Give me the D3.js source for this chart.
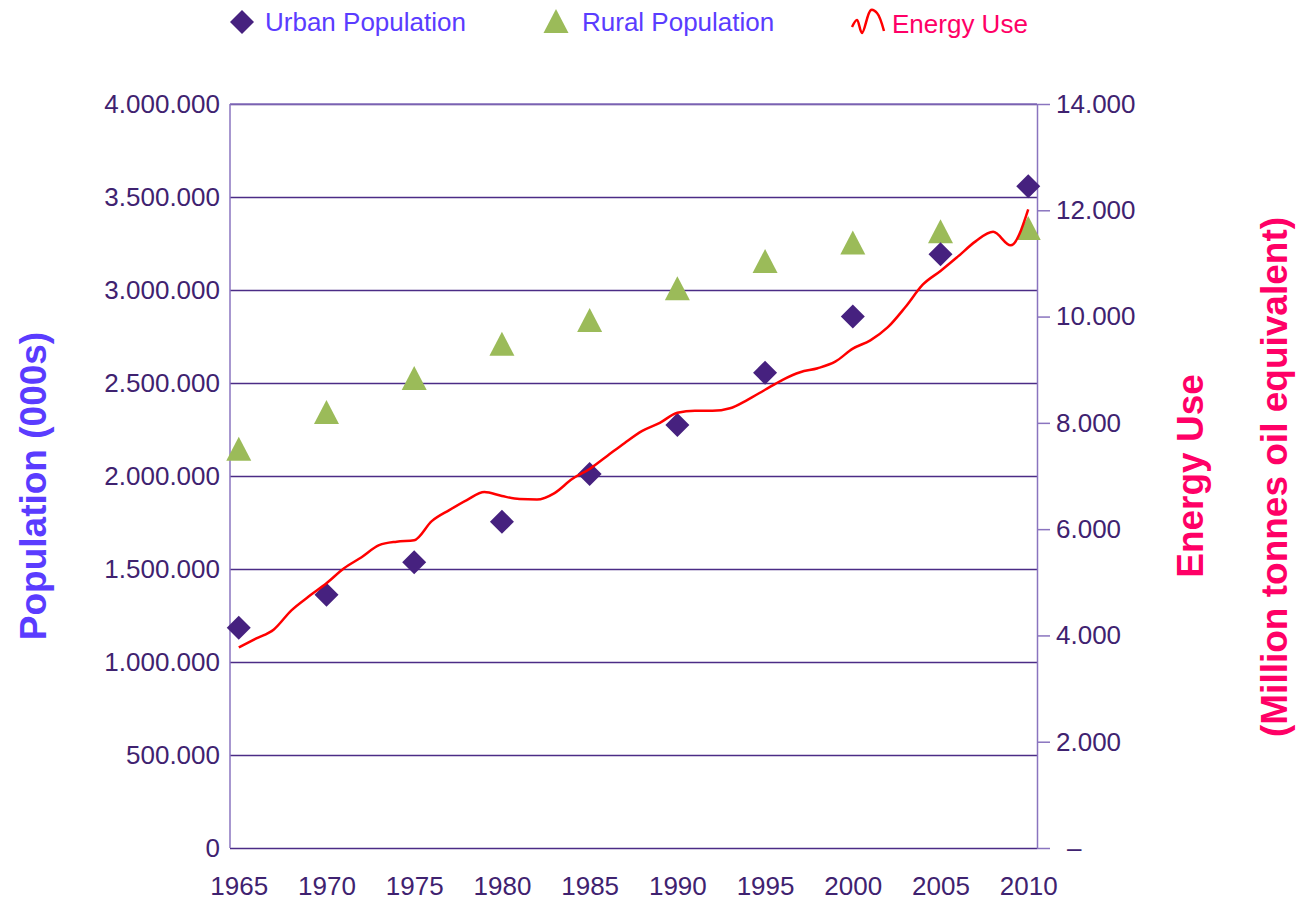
<!DOCTYPE html>
<html>
<head>
<meta charset="utf-8">
<script src="https://cdn.jsdelivr.net/npm/d3@7"></script>
<style>
  body { margin: 0; background: #fff; }
  text { font-family: "Liberation Sans", Arial, sans-serif; }
</style>
</head>
<body>
<div id="container"></div>
<script>
// marker series, every 5 years (thousands)
const markerYears = [1965, 1970, 1975, 1980, 1985, 1990, 1995, 2000, 2005, 2010];
const urbanPop = [1184000, 1362000, 1536000, 1754000, 2011000, 2274000, 2555000, 2857000, 3192000, 3558000];
const ruralPop = [2147000, 2344000, 2527000, 2711000, 2839000, 3010000, 3156000, 3255000, 3316000, 3333000];

// energy use, yearly 1965-2010 (million tonnes oil equivalent)
const energyYears = d3.range(1965, 2011);
const energyUse = [3774, 3943, 4113, 4472, 4736, 4981, 5264, 5472, 5698, 5764,
  5790, 6150, 6358, 6547, 6698, 6623, 6566, 6557, 6679, 6943,
  7132, 7377, 7623, 7849, 8000, 8189, 8226, 8226, 8274, 8434,
  8623, 8811, 8953, 9028, 9151, 9396, 9553, 9800, 10180, 10604,
  10858, 11132, 11415, 11594, 11340, 12019];

const leftTicks = d3.range(0, 4000001, 500000);
const rightTicks = d3.range(0, 14001, 2000);
const yearTicks = [1965, 1970, 1975, 1980, 1985, 1990, 1995, 2000, 2005, 2010];

const W = 1297, H = 903;
const plot = { left: 230, right: 1037, top: 104, bottom: 848 };

const tickColor = '#3f2270';
const gridColor = '#4b2c86';
const frameColor = '#8a74bf';
const blueText = '#5a3cff';
const pinkText = '#ff0066';

const loc = d3.formatLocale({ decimal: ',', thousands: '.', grouping: [3], currency: ['', ''] });
const fmt = loc.format(',');

const svg = d3.select('#container')
  .append('svg')
  .attr('width', W)
  .attr('height', H);

const x = d3.scaleLinear().domain([1964.5, 2010.5]).range([plot.left, plot.right]);
const yL = d3.scaleLinear().domain([0, 4000000]).range([plot.bottom, plot.top]);
const yR = d3.scaleLinear().domain([0, 14000]).range([plot.bottom, plot.top]);

// gridlines + left labels
const leftAxis = svg.append('g')
  .attr('transform', `translate(${plot.left},0)`)
  .call(d3.axisLeft(yL).tickValues(leftTicks).tickSize(-(plot.right - plot.left)).tickPadding(10).tickFormat(fmt));
leftAxis.select('.domain').remove();
leftAxis.selectAll('.tick line').attr('stroke', gridColor).attr('stroke-width', 1.4);
leftAxis.selectAll('.tick text')
  .attr('fill', tickColor)
  .style('font-size', '26px');

// plot frame
svg.append('line')
  .attr('x1', plot.left).attr('x2', plot.left)
  .attr('y1', plot.top).attr('y2', plot.bottom)
  .attr('stroke', frameColor).attr('stroke-width', 1.5);
svg.append('line')
  .attr('x1', plot.left).attr('x2', plot.right)
  .attr('y1', plot.top).attr('y2', plot.top)
  .attr('stroke', frameColor).attr('stroke-width', 1.5);

// right axis
const rightAxis = svg.append('g')
  .attr('transform', `translate(${plot.right},0)`)
  .call(d3.axisRight(yR).tickValues(rightTicks).tickSize(13).tickPadding(6)
    .tickSizeOuter(0)
    .tickFormat(d => d === 0 ? '–' : fmt(d)));
rightAxis.select('.domain').attr('stroke', frameColor).attr('stroke-width', 1.5);
rightAxis.selectAll('.tick line').attr('stroke', frameColor).attr('stroke-width', 1.5);
rightAxis.selectAll('.tick text')
  .attr('fill', tickColor)
  .style('font-size', '26px');
rightAxis.selectAll('.tick')
  .filter(d => d === 0)
  .select('text').attr('x', 30);

// bottom axis labels
const bottomAxis = svg.append('g')
  .attr('transform', `translate(0,${plot.bottom})`)
  .call(d3.axisBottom(x).tickValues(yearTicks).tickSize(0).tickPadding(29).tickFormat(d3.format('d')));
bottomAxis.select('.domain').remove();
bottomAxis.selectAll('.tick text')
  .attr('fill', tickColor)
  .style('font-size', '26px');

// markers
const diamondPath = 'M0,-12L12,0L0,12L-12,0Z';
const trianglePath = 'M0,-12L12.5,12L-12.5,12Z';

svg.append('g')
  .selectAll('path')
  .data(markerYears.map((yr, i) => ({ yr, v: ruralPop[i] })))
  .enter().append('path')
  .attr('d', trianglePath)
  .attr('transform', d => `translate(${x(d.yr)},${yL(d.v)})`)
  .attr('fill', '#9bbb59');

svg.append('g')
  .selectAll('path')
  .data(markerYears.map((yr, i) => ({ yr, v: urbanPop[i] })))
  .enter().append('path')
  .attr('d', diamondPath)
  .attr('transform', d => `translate(${x(d.yr)},${yL(d.v)})`)
  .attr('fill', '#46217f');

// energy line
const energyLine = d3.line()
  .x(d => x(d.yr))
  .y(d => yR(d.v))
  .curve(d3.curveMonotoneX);

svg.append('path')
  .datum(energyYears.map((yr, i) => ({ yr, v: energyUse[i] })))
  .attr('d', energyLine)
  .attr('fill', 'none')
  .attr('stroke', '#ff0000')
  .attr('stroke-width', 2.5);

// axis titles
svg.append('text')
  .attr('transform', 'translate(46,486) rotate(-90)')
  .attr('text-anchor', 'middle')
  .attr('fill', blueText)
  .style('font-size', '37px')
  .style('font-weight', 'bold')
  .text('Population (000s)');

svg.append('text')
  .attr('transform', 'translate(1203,476) rotate(-90)')
  .attr('text-anchor', 'middle')
  .attr('fill', pinkText)
  .style('font-size', '37px')
  .style('font-weight', 'bold')
  .text('Energy Use');

svg.append('text')
  .attr('transform', 'translate(1287,477) rotate(-90)')
  .attr('text-anchor', 'middle')
  .attr('fill', pinkText)
  .style('font-size', '37px')
  .style('font-weight', 'bold')
  .text('(Million tonnes oil equivalent)');

// legend
const legend = svg.append('g');
legend.append('path').attr('d', diamondPath).attr('transform', 'translate(242,22)').attr('fill', '#46217f');
legend.append('text').attr('x', 265).attr('y', 31).attr('fill', blueText).style('font-size', '26px').text('Urban Population');
legend.append('path').attr('d', trianglePath).attr('transform', 'translate(556,21)').attr('fill', '#9bbb59');
legend.append('text').attr('x', 582).attr('y', 31).attr('fill', blueText).style('font-size', '26px').text('Rural Population');
legend.append('path')
  .attr('d', d3.line().curve(d3.curveCatmullRom)([[852, 27], [857, 20], [862, 33], [871, 10], [877, 13], [884, 31]]))
  .attr('fill', 'none').attr('stroke', '#ff0000').attr('stroke-width', 2.5);
legend.append('text').attr('x', 892).attr('y', 33).attr('fill', pinkText).style('font-size', '26px').text('Energy Use');
</script>
</body>
</html>
